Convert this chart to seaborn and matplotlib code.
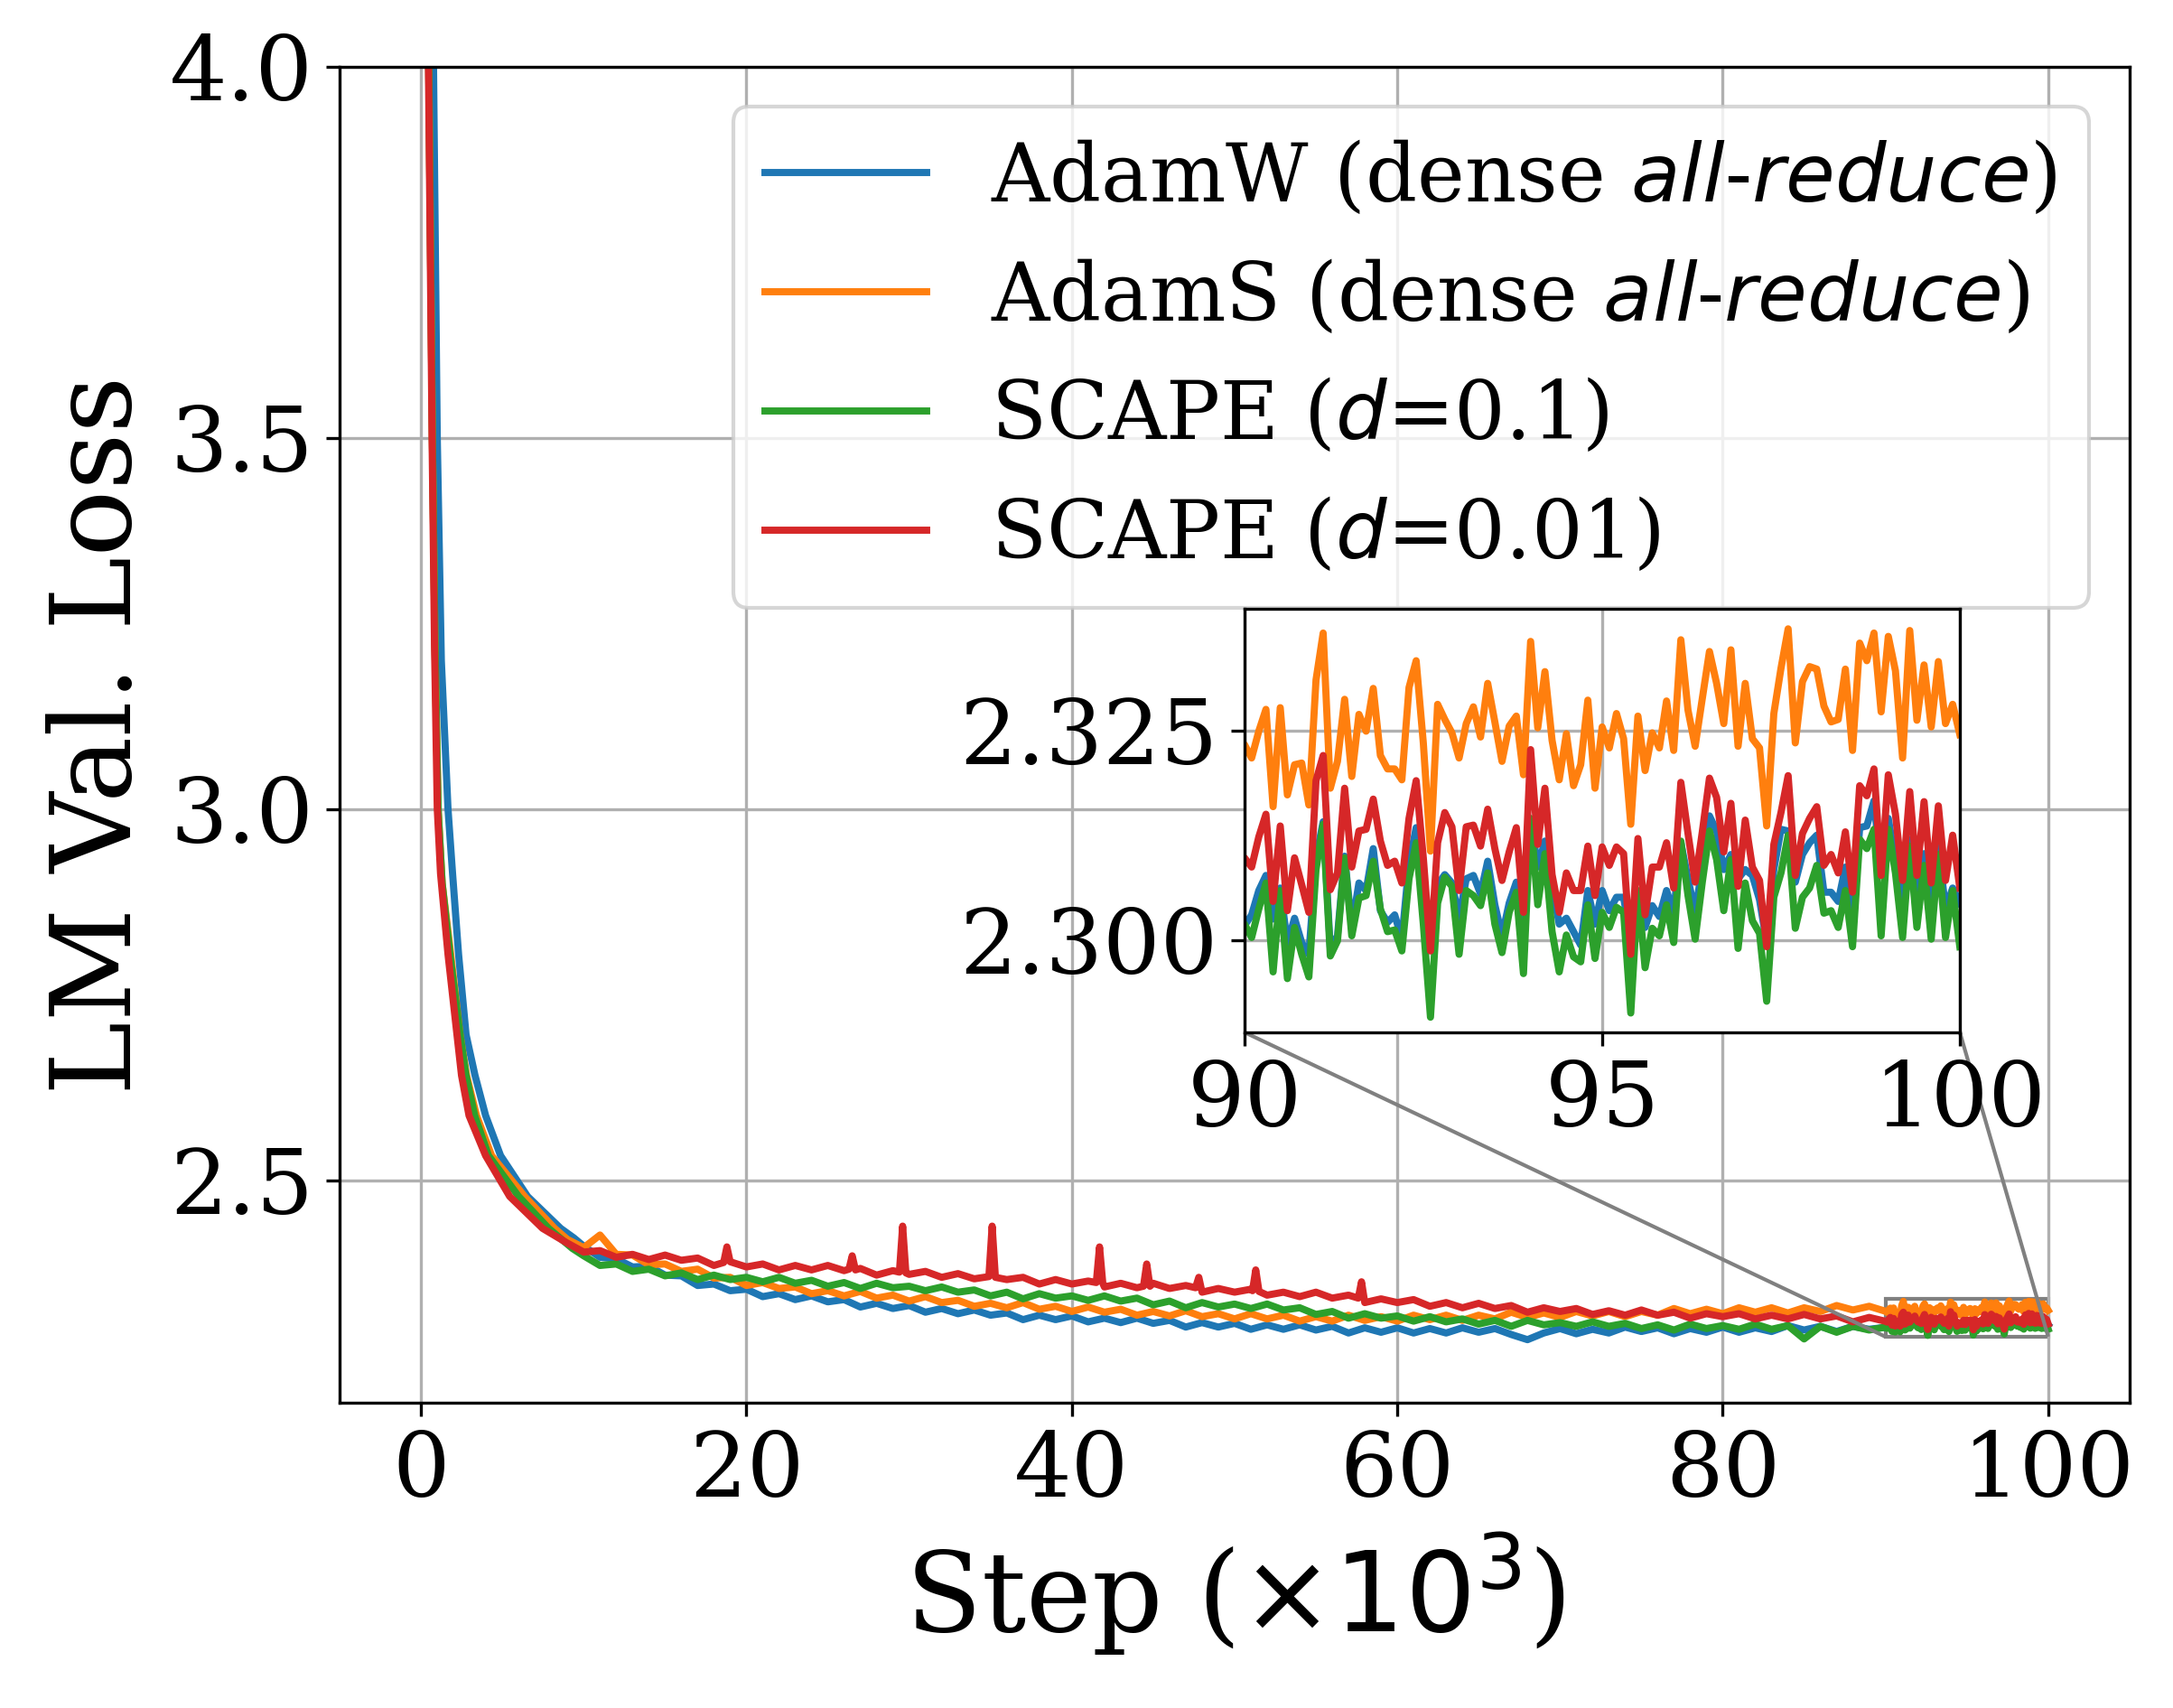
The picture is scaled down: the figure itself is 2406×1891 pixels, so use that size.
import numpy as np
import matplotlib
matplotlib.use('Agg')
import matplotlib.pyplot as plt
import seaborn as sns
from matplotlib.ticker import FormatStrFormatter
from mpl_toolkits.axes_grid1.inset_locator import mark_inset

plt.rcParams['font.family'] = ['DejaVu Serif']
plt.rcParams['mathtext.fontset'] = 'dejavusans'

labels = [
    r"AdamW (dense $\it{all}$-$\it{reduce}$)",
    r"AdamS (dense $\it{all}$-$\it{reduce}$)",
    r"SCAPE ($d$=0.1)",
    r"SCAPE ($d$=0.01)",
]
colors = ["#1f77b4", "#ff7f0e", "#2ca02c", "#d62728"]

# steps are in units of 10^3
main_steps = list(range(10, 90))
zoom_steps = [round(90 + 0.1 * i, 1) for i in range(101)]

# ---- warm-up part (0 - 10k)
blue_early_steps = [0, 0.7, 1.0, 1.25, 1.66, 1.94, 2.31, 2.77, 3.32, 3.97, 4.89, 6.55, 8.58, 9.4]
blue_early = [10.9, 4.15, 3.5, 3.2, 3.0, 2.913, 2.804, 2.696, 2.641, 2.587, 2.533, 2.478, 2.435, 2.422]
orange_early_steps = [0, 0.42, 0.7, 0.86, 1.05, 1.3, 1.85, 2.4, 2.8, 3.41, 4.34, 6.37, 8.21, 9.0]
orange_early = [10.9, 4.13, 3.5, 3.22, 3.0, 2.9, 2.80, 2.696, 2.641, 2.587, 2.533, 2.478, 2.435, 2.42]
green_early_steps = [0, 0.42, 0.7, 0.86, 1.05, 1.3, 1.8, 2.4, 2.77, 3.3, 4.15, 6.0, 7.84, 9.3]
green_early = [10.9, 4.13, 3.5, 3.22, 3.0, 2.9, 2.80, 2.696, 2.641, 2.587, 2.533, 2.478, 2.435, 2.408]
red_early_steps = [0, 0.4, 0.68, 0.83, 1.0, 1.2, 1.66, 2.21, 2.49, 2.95, 3.97, 5.45, 7.47, 9.0]
red_early = [10.9, 4.13, 3.5, 3.22, 3.0, 2.913, 2.804, 2.696, 2.641, 2.587, 2.533, 2.478, 2.435, 2.415]

# ---- 10k - 89k, one value per 1k step
blue_main = [
    2.411, 2.396, 2.394, 2.383, 2.384, 2.372, 2.371, 2.358, 2.360, 2.351,
    2.353, 2.343, 2.347, 2.339, 2.344, 2.336, 2.339, 2.329, 2.334, 2.327,
    2.331, 2.322, 2.327, 2.320, 2.325, 2.318, 2.321, 2.312, 2.318, 2.312,
    2.317, 2.309, 2.314, 2.308, 2.314, 2.307, 2.311, 2.302, 2.308, 2.302,
    2.307, 2.299, 2.305, 2.299, 2.305, 2.298, 2.303, 2.294, 2.301, 2.295,
    2.301, 2.294, 2.300, 2.294, 2.301, 2.295, 2.300, 2.292, 2.285, 2.294,
    2.300, 2.293, 2.299, 2.294, 2.302, 2.296, 2.301, 2.293, 2.300, 2.295,
    2.302, 2.295, 2.301, 2.296, 2.304, 2.298, 2.303, 2.296, 2.303, 2.299,
]
orange_main = [
    2.409, 2.426, 2.400, 2.399, 2.386, 2.387, 2.377, 2.380, 2.368, 2.369,
    2.358, 2.362, 2.354, 2.356, 2.347, 2.351, 2.344, 2.350, 2.341, 2.345,
    2.337, 2.343, 2.335, 2.338, 2.330, 2.334, 2.328, 2.335, 2.326, 2.330,
    2.323, 2.329, 2.322, 2.326, 2.318, 2.323, 2.317, 2.324, 2.316, 2.320,
    2.313, 2.320, 2.313, 2.318, 2.310, 2.316, 2.310, 2.318, 2.311, 2.316,
    2.310, 2.318, 2.312, 2.318, 2.311, 2.318, 2.313, 2.322, 2.315, 2.321,
    2.315, 2.323, 2.317, 2.323, 2.316, 2.323, 2.318, 2.327, 2.320, 2.326,
    2.320, 2.328, 2.322, 2.328, 2.321, 2.328, 2.323, 2.331, 2.325, 2.330,
]
green_main = [
    2.398, 2.385, 2.387, 2.377, 2.380, 2.371, 2.375, 2.366, 2.372, 2.366,
    2.369, 2.363, 2.369, 2.361, 2.365, 2.357, 2.362, 2.354, 2.361, 2.355,
    2.357, 2.351, 2.356, 2.349, 2.352, 2.344, 2.349, 2.340, 2.347, 2.341,
    2.344, 2.338, 2.344, 2.337, 2.341, 2.332, 2.337, 2.328, 2.335, 2.329,
    2.333, 2.327, 2.333, 2.325, 2.328, 2.319, 2.323, 2.314, 2.320, 2.314,
    2.317, 2.310, 2.316, 2.309, 2.313, 2.306, 2.311, 2.303, 2.311, 2.305,
    2.308, 2.303, 2.309, 2.303, 2.307, 2.300, 2.305, 2.298, 2.306, 2.300,
    2.304, 2.299, 2.306, 2.299, 2.304, 2.286, 2.303, 2.295, 2.303, 2.298,
]
# red has its loss spikes, so its own step list
red_main_steps = [
    10, 11, 12, 13, 14, 15, 16, 17, 18, 18.6, 18.8, 19.0,
    20, 21, 22, 23, 24, 25, 26, 26.3, 26.5, 26.7, 27, 28, 29, 29.4, 29.6, 29.8,
    30, 31, 32, 33, 34, 34.9, 35.1, 35.3, 36, 37, 38, 39,
    40, 41, 41.5, 41.7, 41.9, 42, 43, 44, 44.4, 44.6, 44.8, 45, 46, 47, 47.6, 47.8, 48.0, 49,
    50, 51, 51.1, 51.3, 51.5, 52, 53, 54, 55, 56, 57, 57.6, 57.8, 58.0, 59,
    60, 61, 62, 63, 64, 65, 66, 67, 68, 69,
    70, 71, 72, 73, 74, 75, 76, 77, 78, 79,
    80, 81, 82, 83, 84, 85, 86, 87, 88, 89,
]
red_main = [
    2.403, 2.405, 2.396, 2.400, 2.393, 2.399, 2.392, 2.395, 2.385, 2.389, 2.410, 2.390,
    2.383, 2.387, 2.379, 2.385, 2.379, 2.385, 2.378, 2.380, 2.398, 2.379, 2.381, 2.372, 2.378, 2.376, 2.438, 2.375,
    2.373, 2.377, 2.369, 2.374, 2.367, 2.370, 2.438, 2.369, 2.366, 2.369, 2.360, 2.366,
    2.360, 2.364, 2.362, 2.410, 2.361, 2.356, 2.361, 2.355, 2.357, 2.387, 2.357, 2.361, 2.354, 2.358, 2.355, 2.369, 2.349, 2.354,
    2.349, 2.353, 2.351, 2.379, 2.350, 2.345, 2.349, 2.343, 2.349, 2.341, 2.345, 2.341, 2.363, 2.335, 2.340,
    2.335, 2.339, 2.330, 2.335, 2.328, 2.334, 2.327, 2.331, 2.322, 2.328,
    2.323, 2.327, 2.319, 2.324, 2.318, 2.325, 2.318, 2.322, 2.314, 2.320,
    2.316, 2.320, 2.313, 2.318, 2.313, 2.319, 2.313, 2.317, 2.309, 2.315,
]

# ---- 90k - 100k, every 0.1k (the zoomed window)
blue_zoom = [
    2.3017, 2.3030, 2.3059, 2.3077, 2.3025, 2.3062, 2.2996, 2.3026, 2.2997, 2.2983,
    2.3098, 2.3141, 2.2990, 2.3005, 2.3100, 2.3015, 2.3068, 2.3059, 2.3109, 2.3035,
    2.3021, 2.3030, 2.3001, 2.3091, 2.3134, 2.3041, 2.2997, 2.3066, 2.3078, 2.3068,
    2.3026, 2.3073, 2.3077, 2.3055, 2.3094, 2.3042, 2.3005, 2.3044, 2.3069, 2.3015,
    2.3143, 2.3087, 2.3118, 2.3064, 2.3019, 2.3026, 2.3010, 2.2994, 2.3059, 2.3019,
    2.3059,
    2.3035, 2.3051, 2.3051, 2.2999, 2.3057, 2.3015, 2.3041, 2.3028, 2.3059, 2.3033,
    2.3116, 2.3073, 2.3033, 2.3087, 2.3148, 2.3130, 2.3084, 2.3102, 2.3073, 2.3084,
    2.3077, 2.3048, 2.2997, 2.3084, 2.3132, 2.3130, 2.3069, 2.3102, 2.3116, 2.3125,
    2.3057, 2.3057, 2.3046, 2.3087, 2.3019, 2.3134, 2.3136, 2.3166, 2.3080, 2.3145,
    2.3093, 2.3037, 2.3120, 2.3041, 2.3103, 2.3037, 2.3112, 2.3037, 2.3062, 2.3044,
]
orange_zoom = [
    2.3233, 2.3217, 2.3249, 2.3275, 2.3159, 2.3277, 2.3173, 2.3209, 2.3211, 2.3161,
    2.3310, 2.3366, 2.3181, 2.3213, 2.3287, 2.3195, 2.3269, 2.3249, 2.3300, 2.3220,
    2.3204, 2.3204, 2.3191, 2.3301, 2.3333, 2.3235, 2.3106, 2.3281, 2.3263, 2.3247,
    2.3217, 2.3258, 2.3278, 2.3242, 2.3306, 2.3260, 2.3213, 2.3255, 2.3267, 2.3197,
    2.3356, 2.3253, 2.3320, 2.3238, 2.3191, 2.3246, 2.3184, 2.3209, 2.3286, 2.3181,
    2.3254,
    2.3229, 2.3270, 2.3240, 2.3138, 2.3267, 2.3202, 2.3247, 2.3229, 2.3285, 2.3226,
    2.3358, 2.3274, 2.3231, 2.3288, 2.3344, 2.3306, 2.3258, 2.3346, 2.3231, 2.3306,
    2.3240, 2.3229, 2.3136, 2.3270, 2.3324, 2.3371, 2.3235, 2.3308, 2.3326, 2.3323,
    2.3279, 2.3260, 2.3263, 2.3323, 2.3226, 2.3354, 2.3333, 2.3366, 2.3272, 2.3362,
    2.3321, 2.3217, 2.3369, 2.3262, 2.3328, 2.3254, 2.3332, 2.3258, 2.3281, 2.3245,
]
green_zoom = [
    2.3019, 2.3003, 2.3037, 2.3068, 2.2962, 2.3059, 2.2954, 2.3015, 2.2983, 2.2956,
    2.3084, 2.3138, 2.2981, 2.2999, 2.3098, 2.3005, 2.3050, 2.3053, 2.3094, 2.3037,
    2.3010, 2.3012, 2.2987, 2.3073, 2.3116, 2.3019, 2.2908, 2.3044, 2.3075, 2.3064,
    2.2983, 2.3059, 2.3053, 2.3041, 2.3080, 2.3019, 2.2985, 2.3033, 2.3057, 2.2960,
    2.3145, 2.3042, 2.3103, 2.3010, 2.2962, 2.3006, 2.2980, 2.2974, 2.3042, 2.2978,
    2.3033,
    2.3015, 2.3039, 2.3033, 2.2913, 2.3059, 2.2967, 2.3014, 2.3005, 2.3042, 2.2997,
    2.3118, 2.3053, 2.3001, 2.3069, 2.3130, 2.3096, 2.3035, 2.3096, 2.2990, 2.3068,
    2.3023, 2.3008, 2.2927, 2.3051, 2.3080, 2.3125, 2.3014, 2.3051, 2.3062, 2.3089,
    2.3032, 2.3035, 2.3015, 2.3059, 2.2992, 2.3120, 2.3109, 2.3132, 2.3005, 2.3132,
    2.3080, 2.3003, 2.3112, 2.3015, 2.3089, 2.3001, 2.3102, 2.3003, 2.3059, 2.2992,
]
red_zoom = [
    2.3098, 2.3087, 2.3123, 2.3150, 2.3046, 2.3136, 2.3035, 2.3098, 2.3066, 2.3033,
    2.3190, 2.3220, 2.3060, 2.3080, 2.3181, 2.3087, 2.3130, 2.3132, 2.3168, 2.3118,
    2.3089, 2.3094, 2.3068, 2.3145, 2.3190, 2.3098, 2.2987, 2.3116, 2.3152, 2.3135,
    2.3059, 2.3135, 2.3137, 2.3112, 2.3156, 2.3109, 2.3071, 2.3105, 2.3134, 2.3033,
    2.3227, 2.3114, 2.3181, 2.3078, 2.3033, 2.3080, 2.3059, 2.3059, 2.3112, 2.3053,
    2.3111,
    2.3089, 2.3111, 2.3103, 2.2983, 2.3121, 2.3030, 2.3087, 2.3087, 2.3116, 2.3062,
    2.3188, 2.3127, 2.3069, 2.3129, 2.3193, 2.3170, 2.3105, 2.3163, 2.3064, 2.3143,
    2.3087, 2.3071, 2.2992, 2.3114, 2.3152, 2.3196, 2.3077, 2.3127, 2.3145, 2.3159,
    2.3089, 2.3102, 2.3080, 2.3129, 2.3057, 2.3184, 2.3172, 2.3204, 2.3077, 2.3197,
    2.3150, 2.3071, 2.3177, 2.3077, 2.3165, 2.3068, 2.3160, 2.3071, 2.3125, 2.3062,
]

series = [
    (blue_early_steps + main_steps + zoom_steps, blue_early + blue_main + blue_zoom),
    (orange_early_steps + main_steps + zoom_steps, orange_early + orange_main + orange_zoom),
    (green_early_steps + main_steps + zoom_steps, green_early + green_main + green_zoom),
    (red_early_steps + red_main_steps + zoom_steps, red_early + red_main + red_zoom),
]

fig = plt.figure(figsize=(8.02, 6.3035), dpi=300)
ax = fig.add_axes([0.1563, 0.1787, 0.8237, 0.7822])
axins = fig.add_axes([0.5727, 0.3956, 0.3292, 0.2480])

lw = 1.9
for (x, y), c, lab in zip(series, colors, labels):
    sns.lineplot(x=x, y=y, ax=ax, color=c, label=lab, linewidth=lw)
    sns.lineplot(x=x, y=y, ax=axins, color=c, linewidth=lw, legend=False)

ax.set_xlim(-5, 105)
ax.set_ylim(2.2, 4.0)
ax.set_yticks([2.5, 3.0, 3.5, 4.0])
ax.yaxis.set_major_formatter(FormatStrFormatter('%.1f'))
ax.set_xticks([0, 20, 40, 60, 80, 100])
ax.tick_params(labelsize=24)
ax.grid(True, color='#b0b0b0', linewidth=0.8)
ax.set_xlabel(r"Step ($\times 10^3$)", fontsize=29.5)
ax.set_ylabel("LM Val. Loss", fontsize=29.5)
ax.legend(loc='upper right', fontsize=21.4, framealpha=0.8, edgecolor='0.8')

axins.set_xlim(90, 100)
axins.set_ylim(2.289, 2.3395)
axins.set_xticks([90, 95, 100])
axins.set_yticks([2.300, 2.325])
axins.yaxis.set_major_formatter(FormatStrFormatter('%.3f'))
axins.tick_params(labelsize=24)
axins.grid(True, color='#b0b0b0', linewidth=0.8)
axins.set_xlabel("")
axins.set_ylabel("")

mark_inset(ax, axins, loc1=3, loc2=4, fc="none", ec="0.5")

fig.savefig("out.png", dpi=300)
plt.close(fig)
